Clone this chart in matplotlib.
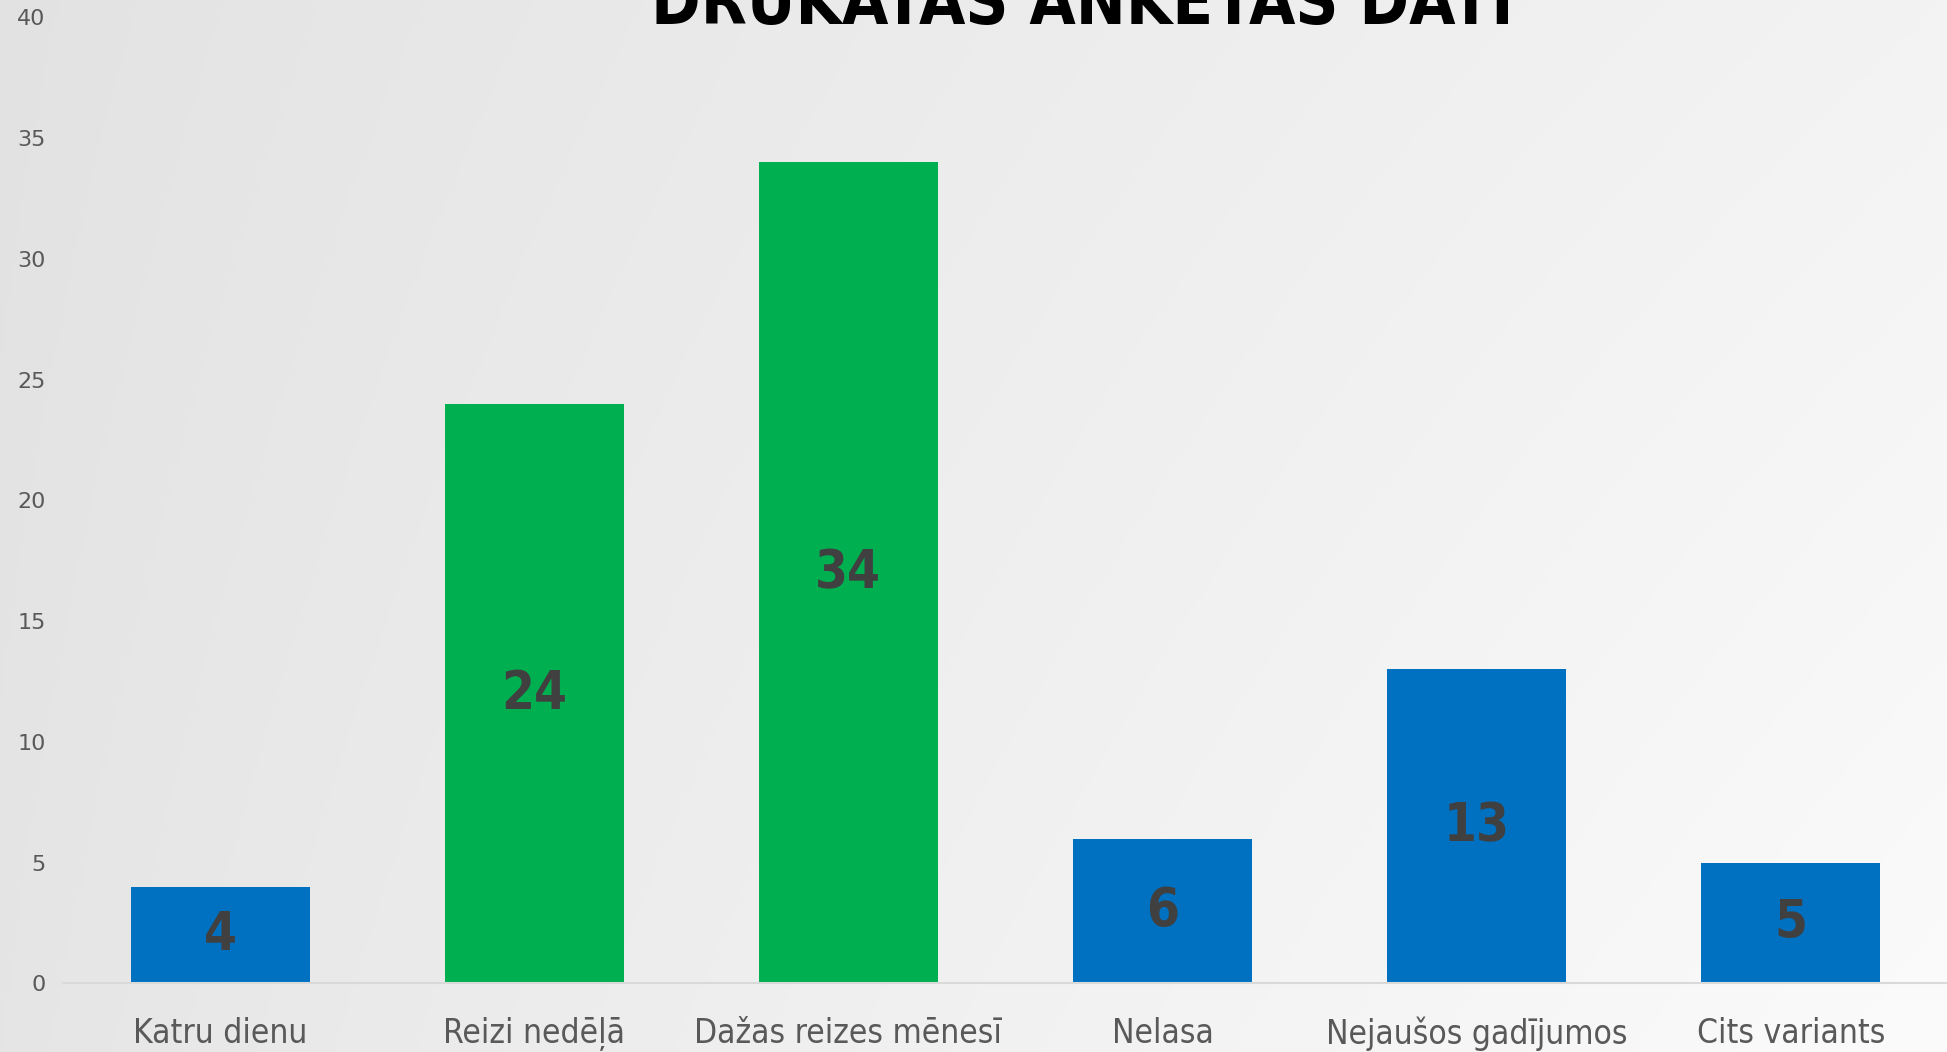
import numpy as np
import matplotlib.pyplot as plt

## Data
categories = ["Katru dienu", "Reizi nedēļā", "Dažas reizes mēnesī",
              "Nelasa", "Nejaušos gadījumos", "Cits variants"]
values = [4, 24, 34, 6, 13, 5]
bar_colors = ["#0070C0", "#00B050", "#00B050", "#0070C0", "#0070C0", "#0070C0"]
yticks = [0, 5, 10, 15, 20, 25, 30, 35, 40]
title = "DRUKĀTAS ANKETAS DATI"

fig = plt.figure(figsize=(19.47, 10.52), dpi=100)

## Light grey gradient behind everything (darker left, lighter bottom right)
bg = fig.add_axes([0, 0, 1, 1], zorder=-10)
gx, gy = np.meshgrid(np.linspace(0, 1, 400), np.linspace(0, 1, 200))
shade = (226 + 17 * gx ** 0.8 + 3 * gy + 5 * gx * gy) / 255.0
img = np.dstack([shade, shade, shade])
bg.imshow(img, aspect="auto", extent=[0, 1, 0, 1], origin="upper")
bg.axis("off")

ax = fig.add_axes([0.0324, 0.0652, 0.968, 0.9183])
ax.set_facecolor("none")

x = np.arange(len(categories))
ax.bar(x, values, width=0.57, color=bar_colors, zorder=2)

## Value labels in the middle of each bar
for xi, v in zip(x, values):
    ax.text(xi, v / 2, str(v), ha="center", va="center", fontsize=38,
            fontweight="bold", fontstretch="condensed", color="#404040",
            family="DejaVu Sans", zorder=3)

ax.set_xlim(-0.5, 5.5)
ax.set_ylim(0, 40)
ax.set_yticks(yticks)
ax.set_yticklabels([str(t) for t in yticks], fontsize=16, color="#595959")
ax.set_xticks(x)
ax.set_xticklabels(categories, fontsize=24, color="#595959",
                   fontstretch="condensed", family="DejaVu Sans")
ax.tick_params(axis="both", length=0)
ax.tick_params(axis="y", pad=12.5)
ax.tick_params(axis="x", pad=24)

for s in ["top", "right", "left"]:
    ax.spines[s].set_visible(False)
ax.spines["bottom"].set_color("#d9d9d9")
ax.spines["bottom"].set_linewidth(1.5)

fig.text(0.556, 0.977, title, ha="center", va="baseline", fontsize=48,
         fontweight="bold", fontstretch="condensed", color="black",
         family="DejaVu Sans")

plt.savefig("out.png", dpi=100)
